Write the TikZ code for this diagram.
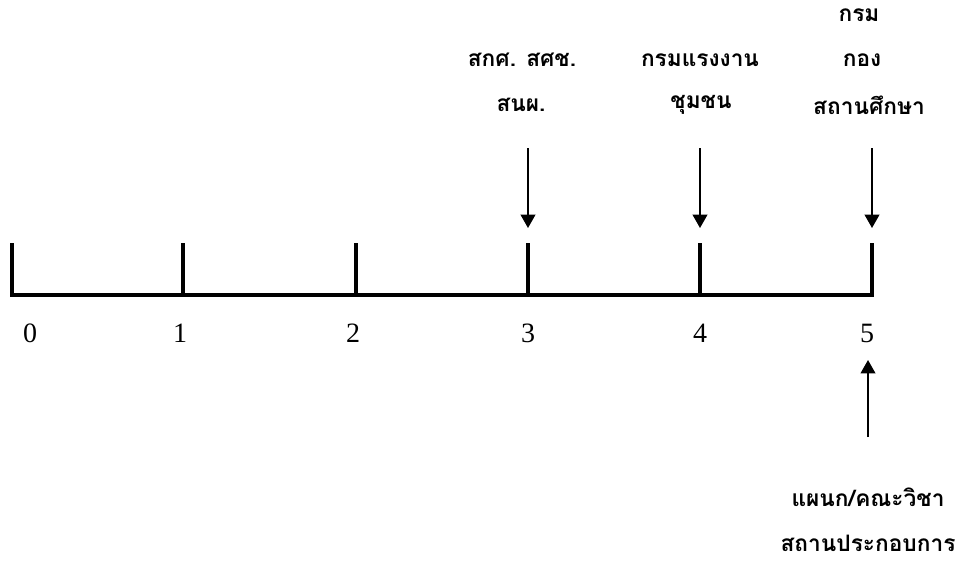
\documentclass[tikz,border=0pt]{standalone}
\usepackage{fontspec}
\setmainfont{Liberation Serif}
\newfontfamily\thaifont[Script=Thai]{Loma}
\usetikzlibrary{arrows.meta}
\begin{document}
\begin{tikzpicture}[x=0.75pt,y=-0.75pt,
  axis/.style={line width=2.7pt,line join=miter},
  tickmark/.style={line width=2.7pt},
  pointer/.style={line width=1.3pt,-{Triangle[width=11pt,length=10pt]}},
  numlabel/.style={font=\fontsize{21}{24}\selectfont,inner sep=0pt},
  thlabel/.style={font=\thaifont\bfseries\fontsize{17}{20}\selectfont,inner sep=0pt}]
\useasboundingbox (0,0) rectangle (974,562);

% scale: base line and tick positions
\foreach \i/\x in {0/12,1/183,2/356,3/528,4/700,5/872}{
  \coordinate (b\i) at (\x,295);
  \coordinate (h\i) at (\x,243);
}
\draw[axis] (h0) -- (b0) -- (b5) -- (h5);
\foreach \i in {1,2,3,4}{\draw[tickmark] (b\i) -- (h\i);}

% scale numbers
\node[numlabel] (n0) at (30,333) {0};
\node[numlabel] (n1) at (180,333) {1};
\node[numlabel] (n2) at (353,333) {2};
\node[numlabel] (n3) at (528,333) {3};
\node[numlabel] (n4) at (700,333) {4};
\node[numlabel] (n5) at (867,333) {5};

% agencies above the scale
\node[thlabel] (s3a) at (522,60) {สกศ. สศช.};
\node[thlabel] (s3b) at (521,105) {สนผ.};
\node[thlabel] (s4a) at (700,60) {กรมแรงงาน};
\node[thlabel] (s4b) at (701,105) {ชุมชน};
\node[thlabel] (s5a) at (859,15) {กรม};
\node[thlabel] (s5b) at (862,60) {กอง};
\node[thlabel] (s5c) at (869,105) {สถานศึกษา};

% pointers from above
\foreach \i/\x in {3/528,4/700,5/872}{
  \coordinate (p\i) at (\x,148);
  \coordinate (q\i) at (\x,228);
  \draw[pointer] (p\i) -- (q\i);
}

% units below the scale
\coordinate (u1) at (868,437);
\coordinate (u2) at (868,360);
\draw[pointer] (u1) -- (u2);
\node[thlabel] (d1) at (868,497) {แผนก/คณะวิชา};
\node[thlabel] (d2) at (868,543) {สถานประกอบการ};
\end{tikzpicture}
\end{document}
